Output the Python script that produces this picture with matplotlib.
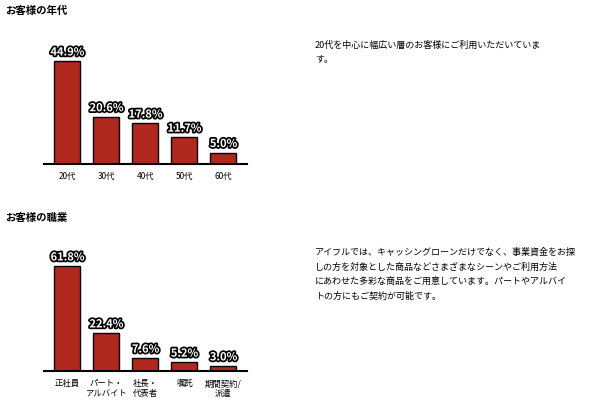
import matplotlib.pyplot as plt
import matplotlib.patheffects as pe

plt.rcParams['font.family'] = 'Noto Sans CJK JP'

age_labels = ['20代', '30代', '40代', '50代', '60代']
age_values = [44.9, 20.6, 17.8, 11.7, 5.0]
job_labels = ['正社員', 'パート・\nアルバイト', '社長・\n代表者', '嘱託', '期間契約/\n派遣']
job_values = [61.8, 22.4, 7.6, 5.2, 3.0]

age_text = '20代を中心に幅広い層のお客様にご利用いただいていま\nす。'
job_text = ('アイフルでは、キャッシングローンだけでなく、事業資金をお探\n'
            'しの方を対象とした商品などさまざまなシーンやご利用方法\n'
            'にあわせた多彩な商品をご用意しています。パートやアルバイ\n'
            'トの方にもご契約が可能です。')

W, H = 600, 417
fig = plt.figure(figsize=(6, 4.17), dpi=100)
bar_color = '#b0281e'


def draw(base_y, height_px, scale, labels, values):
    ax = fig.add_axes([44 / W, 1 - base_y / H, 203 / W, height_px / H])
    ax.set_xlim(44, 247)
    ax.set_ylim(0, height_px / scale)
    xs = [67.5 + 39 * i for i in range(len(values))]
    ax.bar(xs, values, width=26, color=bar_color, edgecolor='black', linewidth=1)
    for x, v in zip(xs, values):
        ax.text(x, v + 2.5 / scale, f'{v}%', ha='center', va='bottom', fontsize=8,
                fontweight='bold', color='white',
                path_effects=[pe.withStroke(linewidth=2.5, foreground='black')])
    for x, lab in zip(xs, labels):
        ax.text(x, -8 / scale, lab, ha='center', va='top', fontsize=6, linespacing=1.2)
    for s in ['top', 'right', 'left']:
        ax.spines[s].set_visible(False)
    ax.spines['bottom'].set_linewidth(1.5)
    ax.set_xticks([])
    ax.set_yticks([])
    ax.patch.set_alpha(0)


draw(164, 125, 103 / 44.9, age_labels, age_values)
draw(371, 130, 105 / 61.8, job_labels, job_values)

fig.text(5 / W, 1 - 11 / H, 'お客様の年代', fontsize=7.5, fontweight='bold', va='center')
fig.text(5 / W, 1 - 218 / H, 'お客様の職業', fontsize=7.5, fontweight='bold', va='center')
fig.text(315 / W, 1 - 41 / H, age_text, fontsize=6.5, va='top', linespacing=1.75)
fig.text(315 / W, 1 - 248 / H, job_text, fontsize=6.5, va='top', linespacing=1.75)

fig.savefig('out.png', dpi=100)
